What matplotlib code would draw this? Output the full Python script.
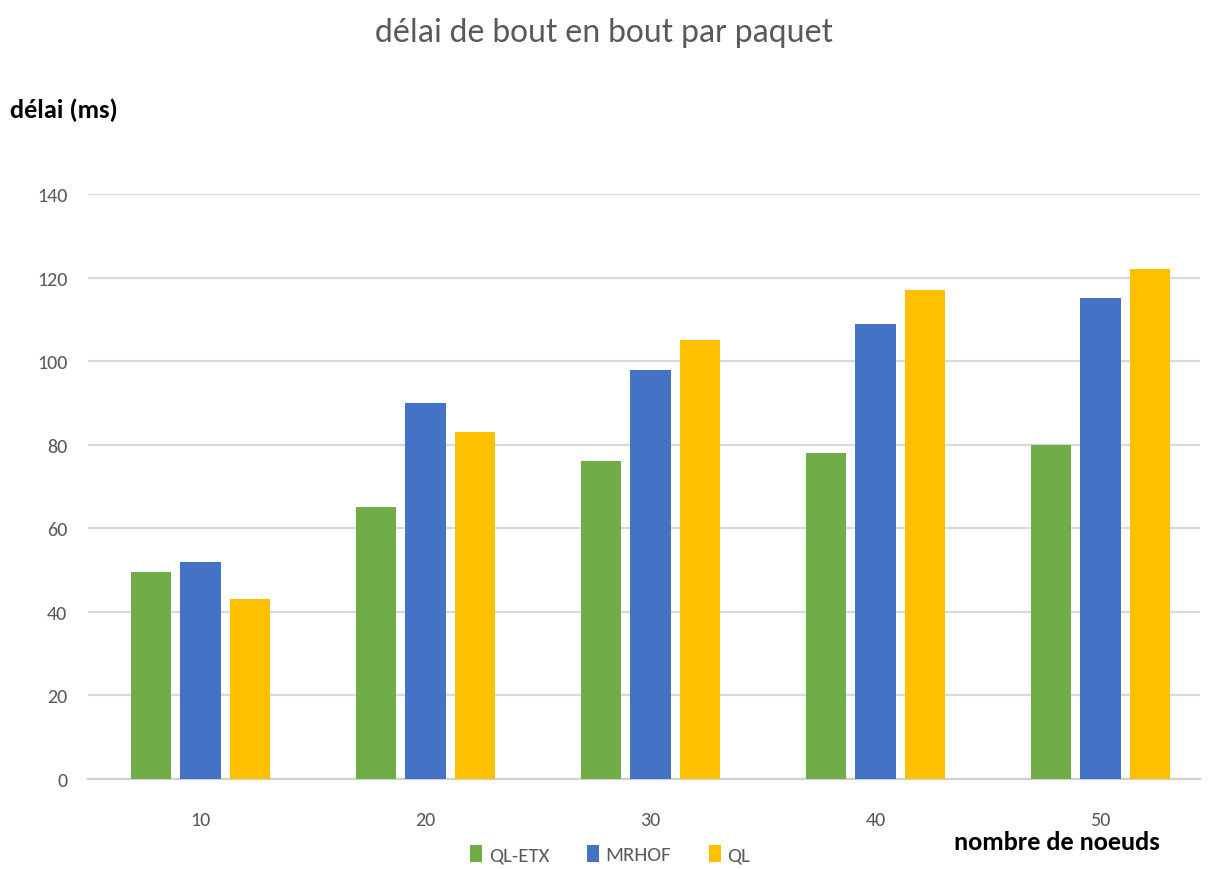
import matplotlib
matplotlib.use('agg')
import matplotlib.pyplot as plt
import numpy as np

plt.rcParams['font.family'] = ['Carlito', 'DejaVu Sans']

# end-to-end delay per packet, in ms
nodes = ["10", "20", "30", "40", "50"]
ql_etx = [49.5, 65, 76, 78, 80]
mrhof = [52, 90, 98, 109, 115]
ql = [43, 83, 105, 117, 122]

series = [("QL-ETX", ql_etx, "#70ad47"),
          ("MRHOF", mrhof, "#4472c4"),
          ("QL", ql, "#ffc000")]

fig = plt.figure(figsize=(12.09, 8.70), dpi=100)
ax = fig.add_axes([88/1209., 1 - 780/870., 1112/1209., 585/870.])

x = np.arange(len(nodes))
width = 0.178
step = 0.222
for i, (name, vals, col) in enumerate(series):
    ax.bar(x + (i - 1) * step, vals, width, color=col, label=name, zorder=3)

ax.set_xlim(-0.5, -0.5 + 1112/225.)
ax.set_ylim(0, 140)
ax.set_yticks(range(0, 141, 20))
ax.set_xticks(x)
ax.set_xticklabels(nodes)
ax.yaxis.grid(True, color="#d9d9d9", lw=1.6, zorder=0)
for s in ["top", "right", "left"]:
    ax.spines[s].set_visible(False)
ax.spines["bottom"].set_color("#d0d0d0")
ax.spines["bottom"].set_linewidth(1.6)
ax.tick_params(axis="both", length=0, labelsize=14.5, colors="#595959")
ax.tick_params(axis="x", pad=23)
ax.tick_params(axis="y", pad=15)

fig.text(0.5, 1 - 33/870., "délai de bout en bout par paquet", ha="center", va="center",
         fontsize=24.5, color="#595959")
fig.text(10/1209., 1 - 110/870., "délai (ms)", ha="left", va="center",
         fontsize=19, fontweight="bold", color="black")
fig.text(1160/1209., 1 - 843/870., "nombre de noeuds", ha="right", va="center",
         fontsize=19, fontweight="bold", color="black")

ax.legend(loc="center", bbox_to_anchor=(610/1209., 1 - 855/870.),
          bbox_transform=fig.transFigure, ncol=3, frameon=False,
          fontsize=15, labelcolor="#595959", handlelength=0.6, handleheight=0.9,
          handletextpad=0.3, columnspacing=1.8)

fig.savefig("out.png", dpi=100)
